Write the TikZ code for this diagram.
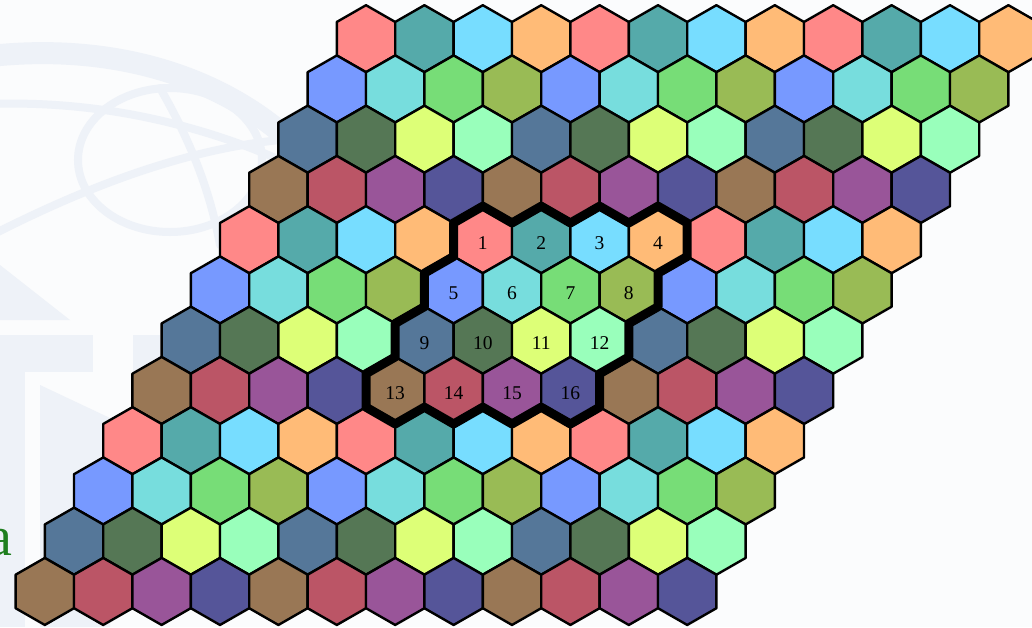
\documentclass[tikz,border=0pt]{standalone}
\usepackage{fontspec}
\setmainfont{Liberation Serif}
\usetikzlibrary{calc}
\definecolor{bgcol}{HTML}{FBFCFD}
\definecolor{logocol}{HTML}{EEF2F8}
\definecolor{agreen}{HTML}{1F7F1F}
\definecolor{hc0}{HTML}{FF8888}
\definecolor{hc1}{HTML}{55AAAA}
\definecolor{hc2}{HTML}{77DDFF}
\definecolor{hc3}{HTML}{FFBB77}
\definecolor{hc4}{HTML}{7799FF}
\definecolor{hc5}{HTML}{77DDDD}
\definecolor{hc6}{HTML}{77DD77}
\definecolor{hc7}{HTML}{99BB55}
\definecolor{hc8}{HTML}{557799}
\definecolor{hc9}{HTML}{557755}
\definecolor{hc10}{HTML}{DDFF77}
\definecolor{hc11}{HTML}{99FFBB}
\definecolor{hc12}{HTML}{997755}
\definecolor{hc13}{HTML}{BB5566}
\definecolor{hc14}{HTML}{995599}
\definecolor{hc15}{HTML}{555599}
\begin{document}
\begin{tikzpicture}[x=1pt,y=-1pt,
  hexline/.style={draw=black,line width=2.4pt,line join=round},
  logoline/.style={draw=logocol,line cap=round},
  numlabel/.style={font=\fontsize{19.5}{23}\selectfont,inner sep=0pt},
  blockline/.style={draw=black,line width=9pt,line join=round}]
\useasboundingbox (0,0) rectangle (1032,627);
\clip (0,0) rectangle (1032,627);
\fill[bgcol] (0,0) rectangle (1032,627);
% faint background logo
\draw[logoline,line width=22pt] (-10,56) .. controls (120,42) and (230,80) .. (300,150);
\draw[logoline,line width=8pt] (-10,104) .. controls (100,100) and (200,125) .. (280,160);
\draw[logoline,line width=8pt] (-10,236) .. controls (80,190) and (180,150) .. (280,140);
\draw[logoline,line width=8pt] (170,160) ellipse [x radius=92, y radius=72];
\draw[logoline,line width=8pt] (160,88) .. controls (190,140) and (210,190) .. (220,245);
\fill[logocol] (0,335) rectangle (93,372);
\fill[logocol] (0,372) rectangle (25,627);
\fill[logocol] (133,335) rectangle (160,430);
\fill[logocol] (40,385) -- (110,418) -- (110,627) -- (40,627) -- cycle;
\fill[logocol] (0,265) -- (70,320) -- (0,320) -- cycle;
% hexagon grid
\foreach \r in {0,...,11}{
  \foreach \c in {0,...,11}{
    \pgfmathsetmacro\cx{366+58.4*\c-29.2*\r}
    \pgfmathsetmacro\cy{38.7+50.25*\r}
    \pgfmathtruncatemacro\ci{mod(\r,4)*4+mod(\c,4)}
    \filldraw[hexline,fill=hc\ci] (\cx+29.2,\cy-16.75) -- (\cx,\cy-33.5) -- (\cx-29.2,\cy-16.75) -- (\cx-29.2,\cy+16.75) -- (\cx,\cy+33.5) -- (\cx+29.2,\cy+16.75) -- cycle;
  }
}
% highlighted block: vertices and numbers
\foreach \r in {4,...,7}{
  \foreach \c in {4,...,7}{
    \pgfmathsetmacro\cx{366+58.4*\c-29.2*\r}
    \pgfmathsetmacro\cy{38.7+50.25*\r}
    \pgfmathtruncatemacro\n{(\r-4)*4+(\c-4)+1}
    \coordinate (v-\r-\c-0) at (\cx+29.2,\cy-16.75);
    \coordinate (v-\r-\c-1) at (\cx,\cy-33.5);
    \coordinate (v-\r-\c-2) at (\cx-29.2,\cy-16.75);
    \coordinate (v-\r-\c-3) at (\cx-29.2,\cy+16.75);
    \coordinate (v-\r-\c-4) at (\cx,\cy+33.5);
    \coordinate (v-\r-\c-5) at (\cx+29.2,\cy+16.75);
    \node[numlabel] (n\n) at (\cx,\cy+3) {\n};
  }
}
\draw[blockline] (v-4-4-2) -- (v-4-4-1) -- (v-4-5-2) -- (v-4-5-1) -- (v-4-6-2) -- (v-4-6-1) -- (v-4-7-2) -- (v-4-7-1) -- (v-4-7-0)
  -- (v-4-7-5) -- (v-5-7-0) -- (v-5-7-5) -- (v-6-7-0) -- (v-6-7-5) -- (v-7-7-0) -- (v-7-7-5) -- (v-7-7-4)
  -- (v-7-7-3) -- (v-7-6-4) -- (v-7-6-3) -- (v-7-5-4) -- (v-7-5-3) -- (v-7-4-4) -- (v-7-4-3)
  -- (v-7-4-2) -- (v-7-4-1) -- (v-6-4-2) -- (v-6-4-1) -- (v-5-4-2) -- (v-5-4-1) -- cycle;
% partial green letter at the left edge
\node[text=agreen,font=\fontsize{56}{60}\selectfont,anchor=base east,inner sep=0pt] (aletter) at (13,555) {a};
\end{tikzpicture}
\end{document}
